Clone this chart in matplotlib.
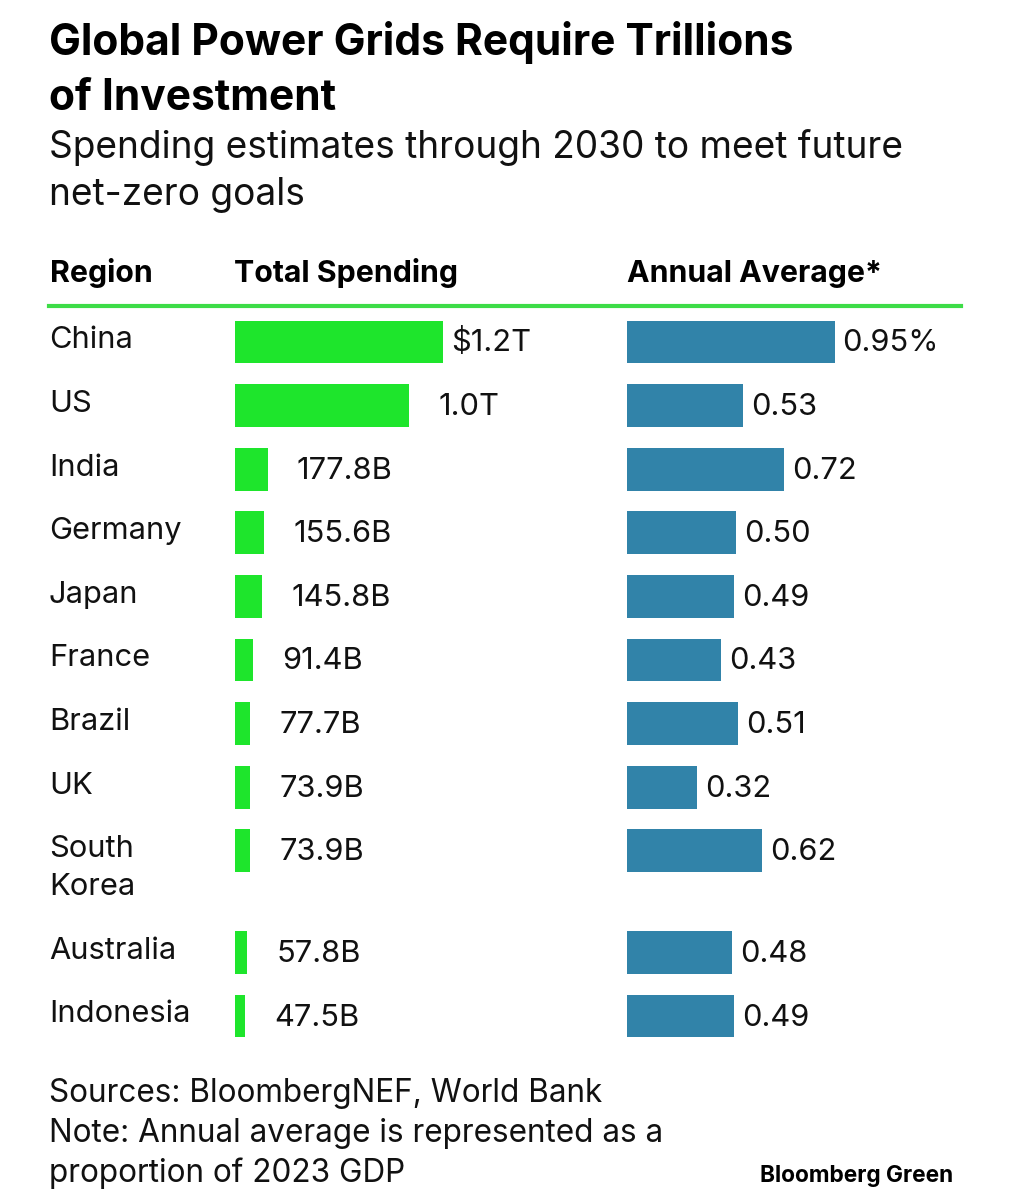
import matplotlib
matplotlib.use("Agg")
import matplotlib.pyplot as plt

regions = ["China", "US", "India", "Germany", "Japan", "France", "Brazil",
           "UK", "South\nKorea", "Australia", "Indonesia"]
total_spending = [1200, 1000, 177.8, 155.6, 145.8, 91.4, 77.7, 73.9, 73.9, 57.8, 47.5]  # billions
spending_labels = ["$1.2T", "1.0T", "177.8B", "155.6B", "145.8B", "91.4B",
                   "77.7B", "73.9B", "73.9B", "57.8B", "47.5B"]
annual_avg = [0.95, 0.53, 0.72, 0.50, 0.49, 0.43, 0.51, 0.32, 0.62, 0.48, 0.49]  # % of GDP
annual_labels = ["0.95%", "0.53", "0.72", "0.50", "0.49", "0.43",
                 "0.51", "0.32", "0.62", "0.48", "0.49"]

W, H = 1010, 1200
GREEN = "#1ee52c"
LINE_GREEN = "#3ddc47"
BLUE = "#3183a9"
plt.rcParams['font.family'] = ['Inter', 'DejaVu Sans']

fig = plt.figure(figsize=(W / 100, H / 100), dpi=100)

def fx(x):
    return x / W

def fy(y):
    return 1 - y / H

# row positions: South Korea takes two lines, so leave extra room after it
rows = []
r = 0.0
for name in regions:
    rows.append(r)
    r += 1.6 if "\n" in name else 1.0

ROW0, ROWH = 342, 63.6
top_px, bot_px = 310, 1060
ylim = ((bot_px - ROW0) / ROWH, (top_px - ROW0) / ROWH)

def make_ax(left_px, right_px, xmax):
    ax = fig.add_axes([fx(left_px), fy(bot_px), (right_px - left_px) / W, (bot_px - top_px) / H])
    ax.set_xlim(0, xmax)
    ax.set_ylim(*ylim)
    ax.axis("off")
    return ax

ROW_FS = 22.2

# green bars: ~0.172 px per billion, plus a 4px stroke
ax_g = make_ax(235, 600, (600 - 235) / 0.172)
ax_g.barh(rows, total_spending, height=0.607, color=GREEN, edgecolor=GREEN, linewidth=2.88)
for y, v, lab in zip(rows, total_spending, spending_labels):
    pad = 8 if lab.startswith("$") else 30
    ax_g.annotate(lab, (v, y), xytext=(pad * 0.72 + 1.0, -6.8), textcoords="offset points",
                  va="baseline", ha="left", fontsize=ROW_FS, color="#111111")

# blue bars: ~218.5 px per percentage point
ax_b = make_ax(627, 1000, (1000 - 627) / 218.5)
ax_b.barh(rows, annual_avg, height=0.67, color=BLUE)
for y, v, lab in zip(rows, annual_avg, annual_labels):
    ax_b.annotate(lab, (v, y), xytext=(8 * 0.72, -6.8), textcoords="offset points",
                  va="baseline", ha="left", fontsize=ROW_FS, color="#111111")

# region names
for y, name in zip(rows, regions):
    lines = name.split("\n")
    for k, line in enumerate(lines):
        ypx = ROW0 + y * ROWH + 6.3 + k * 38
        fig.text(fx(49), fy(ypx), line, fontsize=ROW_FS, va="baseline", ha="left", color="#111111")

# title and subtitle
fig.text(fx(49), fy(55), "Global Power Grids Require Trillions", fontsize=30.6,
         fontweight="bold", va="baseline", color="#000000")
fig.text(fx(49), fy(110), "of Investment", fontsize=30.6,
         fontweight="bold", va="baseline", color="#000000")
fig.text(fx(49), fy(158), "Spending estimates through 2030 to meet future", fontsize=26.7,
         va="baseline", color="#111111")
fig.text(fx(49), fy(205), "net-zero goals", fontsize=26.7, va="baseline", color="#111111")

# column headers
for xh, txt in [(50, "Region"), (234, "Total Spending"), (627, "Annual Average*")]:
    fig.text(fx(xh), fy(282), txt, fontsize=21.8, fontweight="bold", va="baseline", color="#000000")
fig.add_artist(plt.Line2D([fx(49), fx(961)], [fy(306), fy(306)], color=LINE_GREEN, lw=3))

# footer
fig.text(fx(49), fy(1102), "Sources: BloombergNEF, World Bank", fontsize=22.7,
         va="baseline", color="#111111")
fig.text(fx(49), fy(1142), "Note: Annual average is represented as a", fontsize=22.7,
         va="baseline", color="#111111")
fig.text(fx(49), fy(1182), "proportion of 2023 GDP", fontsize=22.7, va="baseline", color="#111111")
fig.text(fx(953), fy(1182), "Bloomberg Green", fontsize=16.3, fontweight="bold",
         va="baseline", ha="right", color="#000000")

fig.savefig("out.png", dpi=100, facecolor="white")
